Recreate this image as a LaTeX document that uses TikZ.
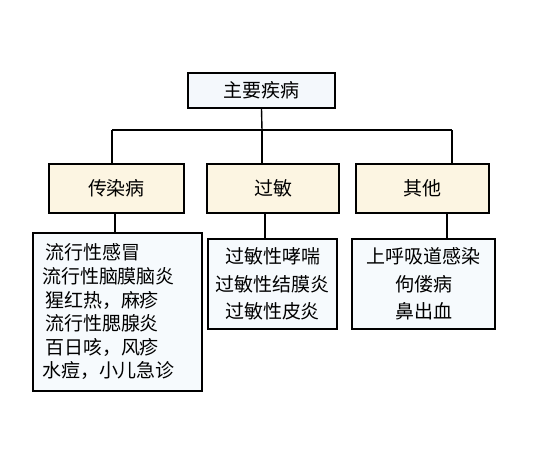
\documentclass[tikz,border=0pt]{standalone}
\usepackage{fontspec}
\newfontfamily\cjk{Noto Sans CJK SC}
\definecolor{topfill}{HTML}{F4F8FC}
\definecolor{catfill}{HTML}{FCF5E2}
\definecolor{listfill}{HTML}{F6FAFD}
\tikzset{
  box/.style={draw=black, line width=1.6pt, inner sep=0pt, font=\cjk\fontsize{19}{22}\selectfont},
  topbox/.style={box, fill=topfill, minimum width=147pt, minimum height=35pt},
  catbox/.style={box, fill=catfill, minimum width=134pt, minimum height=49pt},
  listbox/.style={box, fill=listfill},
  conn/.style={draw=black, line width=1.4pt}
}
\begin{document}
\begin{tikzpicture}[x=1pt,y=-1pt]
\useasboundingbox[fill=white] (0,0) rectangle (550,463);
\node[topbox] (top) at (261.5,90.5) {主要疾病};
\node[catbox, minimum width=135pt] (c1) at (116.5,188.5) {传染病};
\node[catbox, minimum width=132pt] (c2) at (273,188.5) {过敏};
\node[catbox, minimum width=133pt] (c3) at (422.5,188.5) {其他};
\node[listbox, minimum width=169pt, minimum height=158pt, text width=151pt, align=left,
      font=\cjk\fontsize{19}{23.6}\selectfont] (l1) at (117.5,312)
  {\hspace*{3pt}流行性感冒\\流行性脑膜脑炎\\\hspace*{3pt}猩红热，麻疹\\\hspace*{3pt}流行性腮腺炎\\\hspace*{3pt}百日咳，风疹\\水痘，小儿急诊};
\node[listbox, minimum width=129pt, minimum height=90pt, align=center,
      font=\cjk\fontsize{19}{27.3}\selectfont] (l2) at (272.5,284)
  {过敏性哮喘\\过敏性结膜炎\\过敏性皮炎};
\node[listbox, minimum width=143pt, minimum height=90pt, align=center,
      font=\cjk\fontsize{19}{27.3}\selectfont] (l3) at (423.5,284)
  {上呼吸道感染\\佝偻病\\鼻出血};
\coordinate (jt) at (262,130);
\coordinate (jl) at (112,130);
\coordinate (jm) at (262,130);
\coordinate (jr) at (452,130);
\draw[conn] (top.south) -- (jt);
\draw[conn] (jl) -- (jr);
\draw[conn] (jl) -- (jl |- c1.north);
\draw[conn] (jm) -- (jm |- c2.north);
\draw[conn] (jr) -- (jr |- c3.north);
\coordinate (d1) at (115,213);
\coordinate (d2) at (265,213);
\coordinate (d3) at (447,213);
\draw[conn] (d1) -- (d1 |- l1.north);
\draw[conn] (d2) -- (d2 |- l2.north);
\draw[conn] (d3) -- (d3 |- l3.north);
\end{tikzpicture}
\end{document}
